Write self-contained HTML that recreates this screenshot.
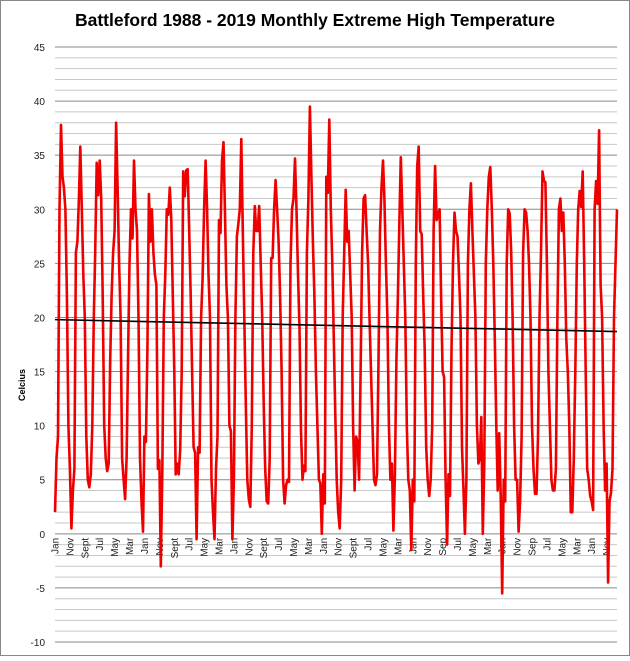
<!DOCTYPE html>
<html><head><meta charset="utf-8"><style>
body{margin:0;background:#fff;font-family:"Liberation Sans",sans-serif}
#wrap{position:relative;width:630px;height:656px}
</style></head><body>
<div id="wrap">
<svg id="svg" width="630" height="656" xmlns="http://www.w3.org/2000/svg">
<rect x="0.5" y="0.5" width="629" height="655" fill="#fff" stroke="#888"/>
<text x="315" y="26" text-anchor="middle" font-size="17.5" font-weight="bold" fill="#000">Battleford 1988 - 2019 Monthly Extreme High Temperature</text>
<text x="0" y="0" transform="translate(25,385) rotate(-90)" text-anchor="middle" font-size="9" font-weight="bold">Celcius</text>
<g id="grid"></g><g id="yt"></g><g id="xt"></g><g id="series"></g>
</svg></div>
<script>
const monthNames=["Jan","Feb","Mar","Apr","May","Jun","Jul","Aug","Sept","Oct","Nov","Dec"];
const yTicks=[-10,-5,0,5,10,15,20,25,30,35,40,45];
const trendStart=19.8, trendEnd=18.7;
const temps=[
2,7,9,30,37.8,33,32,30,22,10,6,0.5,
4,6,26,27,31,35.8,30,24,20,9,5,4.3,
5.5,10,20,26,34.3,31.3,34.5,31,22,10,7,5.8,
6.5,16,22,26,28,38,32,25,20,7,5,3.2,
7,16,25,30,27.3,34.5,30,28,20,7,3,0.2,
9,8.5,17,31.4,27,30,26,24,23,6,6.8,-3,
5.7,20,24,30,29.5,32,29,22,15,5.5,6.5,5.5,
7.8,15,33.5,31.2,33.6,33.7,28,22,15,8,7.5,-0.5,
8,7.5,20,23.7,30,34.5,30,24,20,5,2,-0.5,
6,9,29,27.8,34.5,36.2,30,23,20,10,9.5,-0.5,
5,20,27.5,28.7,30,36.5,28,20,12,5,3.2,2.5,
10,26,30.3,28,28,30.3,25,20,12,6,3,2.8,
7,25.5,25.5,30,32.7,30,27,22,15,5,2.8,4.5,
5,4.8,25,30,31,34.7,30,24,19,9.5,5,6.3,
5.8,26,31,39.5,33,27,22,15,10,5,4.7,0,
5.5,2.8,33,31.5,38.3,30,25,18,11,5,2,0.5,
5,20,26,31.8,27,28,24,20,10,4,9,8.5,
5,15,26,31,31.3,28,25,20,15,10,5,4.5,
5.5,16,28,32,34.5,31,25,20,10,5,6.5,0.3,
5.5,16,22,29,34.8,30,25,20,10,5,4,-1.5,
5,3,25,34,35.8,28,27.7,22,17,8,5,3.5,
5,10,28,34,29,29.5,30,22,15,14.5,5,-1,
5.5,3.5,17,25,29.7,28,27.5,24,20,8,4,0,
5,25,30,32.4,28,24,20,10,6.5,7,10.8,0,
6.5,25,30,33,33.9,30,25,18,10,4,9.3,3.5,
-5.5,5,3,25,30,29.6,26,20,10,5,5,0.2,
3,9,26,30,29.7,28,25,20,10,6,3.7,3.7,
9,20,26,33.5,32.6,32.5,25,15,10,5,4,4,
6,20,30,31,28,29.7,25,18,15,10,2,2,
7,15,25,30,31.7,30.2,33.5,25,15,6,5,3.5,
3,2.2,30,32.6,30.5,37.3,23,20,10,4,6.5,-4.5,
3,3.8,6,20,25,30
];
const NS="http://www.w3.org/2000/svg";
const X0=55,X1=617,Y0=47,Y1=642;
function yS(v){return Y1-(v+10)/55*(Y1-Y0);}
function xS(i){return X0+i*(X1-X0)/(temps.length-1);}
function mk(t,a,p){const e=document.createElementNS(NS,t);for(const k in a)e.setAttribute(k,a[k]);p.appendChild(e);return e;}
const grid=document.getElementById('grid');
for(let v=-10;v<=45;v++){
 const l=mk('line',{x1:X0,x2:X1,y1:yS(v),y2:yS(v),stroke:v%5===0?'#888':'#c8c8c8','stroke-width':1},grid);
 
 
}
const yt=document.getElementById('yt');
yTicks.forEach(v=>{
 const t=mk('text',{x:45,y:yS(v)+4,'text-anchor':'end','font-size':10,fill:'#222'},yt);
 t.textContent=v;
 
 
});
const xt=document.getElementById('xt');
for(let i=0;i<temps.length;i+=10){
 let n=monthNames[i%12]; if(n==="Sept"&&i>250)n="Sep";
 const t=mk('text',{transform:`translate(${xS(i)+3.5},${yS(0)+4}) rotate(-90)`,'text-anchor':'end','font-size':10,fill:'#222'},xt);
 t.textContent=n;
 
 
}
const s=document.getElementById('series');
const p=mk('polyline',{points:temps.map((v,i)=>xS(i).toFixed(1)+','+yS(v).toFixed(1)).join(' '),fill:'none',stroke:'#ee0000','stroke-width':2.6,'stroke-linejoin':'round'},s);


const tl=mk('line',{x1:X0,x2:X1,y1:yS(trendStart),y2:yS(trendEnd),stroke:'#000','stroke-width':1.6},s);


</script>
</body></html>
